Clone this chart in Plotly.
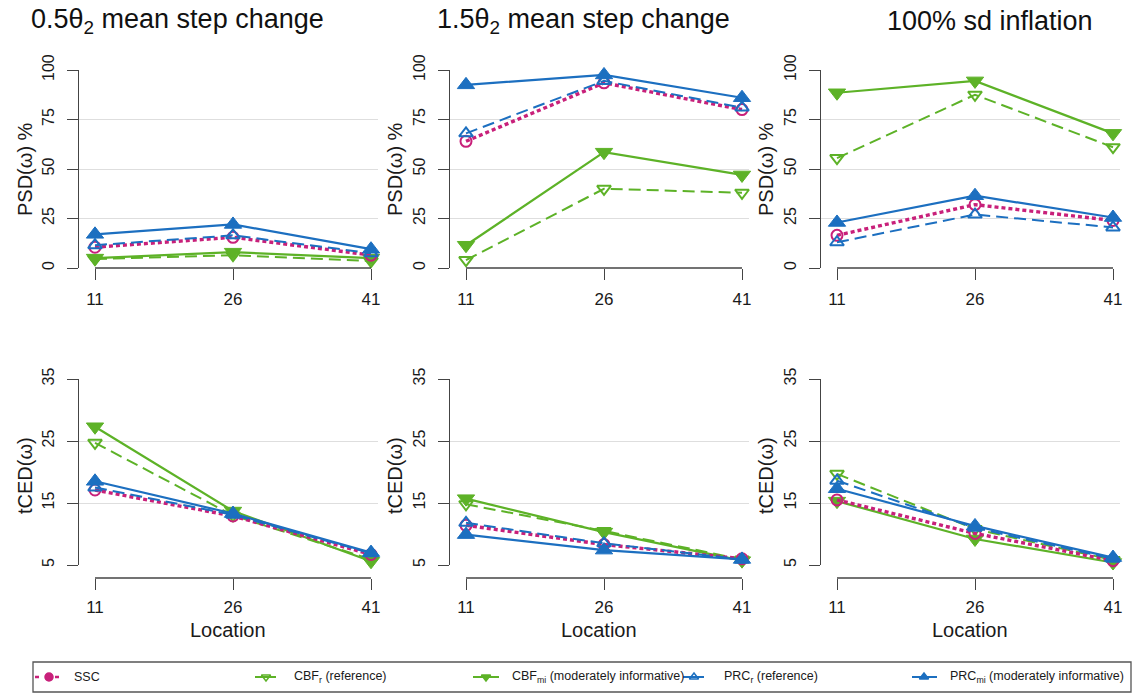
import plotly.graph_objects as go

# ---------------- data ----------------
locations = [11, 26, 41]
scenario_titles = ["0.5θ<sub>2</sub> mean step change", "1.5θ<sub>2</sub> mean step change", "100% sd inflation"]
series_names = ["CBFr", "CBFmi", "SSC", "PRCr", "PRCmi"]

# PSD(ω) % : one list per scenario [0.5θ2, 1.5θ2, sd inflation]
psd_ssc = [[10.5, 15.5, 6.5], [64, 93.5, 80], [16.5, 32, 24]]
psd_cbf_r = [[4.5, 6.5, 3.5], [4, 40, 38], [55.5, 87.5, 61]]
psd_cbf_mi = [[5, 8, 5], [11.5, 58.5, 47], [88.5, 94.5, 68]]
psd_prc_r = [[11.5, 16.5, 7.5], [68, 94.5, 81], [13, 27, 20.5]]
psd_prc_mi = [[17, 22, 9.5], [92.5, 97.5, 86], [23, 36.5, 25.5]]

# tCED(ω)
tced_ssc = [[17.1, 12.9, 6.7], [11.4, 8.3, 6.0], [15.5, 10.1, 5.7]]
tced_cbf_r = [[24.7, 13.0, 5.9], [14.8, 10.5, 5.9], [19.7, 10.8, 5.8]]
tced_cbf_mi = [[27.3, 13.7, 5.6], [15.7, 10.3, 5.7], [15.3, 9.2, 5.4]]
tced_prc_r = [[17.5, 13.1, 6.9], [11.8, 8.5, 5.9], [18.6, 11.0, 6.0]]
tced_prc_mi = [[18.5, 13.3, 7.0], [9.9, 7.4, 5.9], [17.3, 11.3, 6.2]]

psd_ticks = [0, 25, 50, 75, 100]
tced_ticks = [5, 15, 25, 35]

legend_labels = {
    "SSC": "SSC",
    "CBFr": "CBF<sub>r</sub> (reference)",
    "CBFmi": "CBF<sub>mi</sub> (moderately informative)",
    "PRCr": "PRC<sub>r</sub> (reference)",
    "PRCmi": "PRC<sub>mi</sub> (moderately informative)",
}

# ---------------- styles / layout ----------------
W, H = 1134, 694
FONT = "Liberation Sans, Arial, sans-serif"
MAG = "#C8207A"
GRN = "#5DB227"
BLU = "#1C6FC0"
AX = "#444444"

styles = {
    "SSC":   dict(color=MAG, dash="4px,3px", width=3.4, symbol="circle-open", size=11),
    "CBFr":  dict(color=GRN, dash="12px,6px", width=2.0, symbol="triangle-down-open", size=12),
    "CBFmi": dict(color=GRN, dash="solid", width=2.2, symbol="triangle-down", size=15),
    "PRCr":  dict(color=BLU, dash="12px,6px", width=2.0, symbol="triangle-up-open", size=12),
    "PRCmi": dict(color=BLU, dash="solid", width=2.2, symbol="triangle-up", size=15),
}
psd_data = {"SSC": psd_ssc, "CBFr": psd_cbf_r, "CBFmi": psd_cbf_mi, "PRCr": psd_prc_r, "PRCmi": psd_prc_mi}
tced_data = {"SSC": tced_ssc, "CBFr": tced_cbf_r, "CBFmi": tced_cbf_mi, "PRCr": tced_prc_r, "PRCmi": tced_prc_mi}

lefts = [79, 450, 821]
plot_w = 299
x_first_px = 16
px_per_unit = 9.2
top_px = (70, 268)
bot_px = (379, 565)
bot_axis_px = 578
title_cx = [177, 583, 990]
ytitle_cx = [25, 395, 766]


def xdom(l, r):
    return [l / W, r / W]


def ydom(top, bottom):
    return [1 - bottom / H, 1 - top / H]


fig = go.Figure()
layout = dict(
    width=W, height=H, autosize=False, margin=dict(l=0, r=0, t=0, b=0, pad=0, autoexpand=False),
    paper_bgcolor="white", plot_bgcolor="white", showlegend=False,
    font=dict(family=FONT, color="#1a1a1a"),
)
annotations = []
shapes = []

xr = [locations[0] - x_first_px / px_per_unit,
      locations[0] + (plot_w - x_first_px) / px_per_unit]

for col in range(3):
    for row in range(2):
        k = row * 3 + col + 1
        sfx = "" if k == 1 else str(k)
        data = psd_data if row == 0 else tced_data
        for name in series_names:
            st = styles[name]
            open_sym = st["symbol"].endswith("open")
            fig.add_trace(go.Scatter(
                x=locations, y=data[name][col], mode="lines+markers",
                xaxis="x" + sfx, yaxis="y" + sfx, cliponaxis=False,
                line=dict(color=st["color"], width=st["width"], dash=st["dash"]),
                marker=dict(symbol=st["symbol"], size=st["size"], color=st["color"],
                            line=dict(color=st["color"], width=2 if open_sym else 1)),
                name=name,
            ))
        xd = xdom(lefts[col], lefts[col] + plot_w)
        if row == 0:
            yd = ydom(*top_px)
            xa = dict(anchor="y" + sfx, ticklabelstandoff=5)
            ya_range = [0, 100]
            ticks_y = psd_ticks
            axis_y_paper = yd[0]
        else:
            yd = ydom(*bot_px)
            axis_y_paper = 1 - bot_axis_px / H
            xa = dict(anchor="free", position=axis_y_paper, ticklabelstandoff=3)
            ya_range = [5, 35]
            ticks_y = tced_ticks
        xa.update(domain=xd, range=xr, tickvals=locations, ticktext=[str(v) for v in locations],
                  ticks="outside", ticklen=11, tickwidth=1.3, tickcolor=AX, automargin=False,
                  showline=False, showgrid=False, zeroline=False,
                  tickfont=dict(size=17, family=FONT, color="#1a1a1a"))
        ya = dict(domain=yd, range=ya_range, anchor="x" + sfx, tickvals=ticks_y,
                  ticks="outside", ticklen=11, tickwidth=1.3, tickcolor=AX, automargin=False,
                  showline=True, linecolor=AX, linewidth=1.3,
                  showgrid=True, gridcolor="#DEDEDE", gridwidth=1, zeroline=False,
                  tickangle=-90, tickfont=dict(size=16, family=FONT, color="#1a1a1a"),
                  ticklabelstandoff=6)
        layout["xaxis" + sfx] = xa
        layout["yaxis" + sfx] = ya
        # detached x-axis line from first to last location
        shapes.append(dict(type="line", xref="x" + sfx, yref="paper",
                           x0=locations[0], x1=locations[-1], y0=axis_y_paper, y1=axis_y_paper,
                           line=dict(color=AX, width=1.3)))
        # y axis title
        ytxt = "PSD(ω) %" if row == 0 else "tCED(ω)"
        ycen = (top_px[0] + top_px[1]) / 2 if row == 0 else 476
        annotations.append(dict(text=ytxt, x=ytitle_cx[col] / W, y=1 - ycen / H,
                                xref="paper", yref="paper", showarrow=False, textangle=-90,
                                xanchor="center", yanchor="middle",
                                font=dict(size=20, family=FONT, color="#1a1a1a")))
    # column title
    annotations.append(dict(text=scenario_titles[col], x=title_cx[col] / W, y=1 - 21 / H,
                            xref="paper", yref="paper", showarrow=False,
                            xanchor="center", yanchor="middle",
                            font=dict(size=27, family=FONT, color="#111111")))
    # Location label
    annotations.append(dict(text="Location", x=(lefts[col] + plot_w / 2 - 0.5) / W, y=1 - 630 / H,
                            xref="paper", yref="paper", showarrow=False,
                            xanchor="center", yanchor="middle",
                            font=dict(size=20, family=FONT, color="#1a1a1a")))

# ---------------- manual legend ----------------
legend_order = ["SSC", "CBFr", "CBFmi", "PRCr", "PRCmi"]
key_x = {"SSC": (35, 49, 62), "CBFr": (255, 266, 276), "CBFmi": (473, 486, 499),
         "PRCr": (683, 694, 704), "PRCmi": (912, 924, 937)}
text_x = {"SSC": 72, "CBFr": 292, "CBFmi": 510, "PRCr": 722, "PRCmi": 948}
leg_sym = {"SSC": "circle", "CBFr": "triangle-down-open", "CBFmi": "triangle-down",
           "PRCr": "triangle-up-open", "PRCmi": "triangle-up"}
for name in legend_order:
    st = styles[name]
    x0, xm, x1 = key_x[name]
    fig.add_trace(go.Scatter(x=[x0, x1], y=[0.5, 0.5], mode="lines", xaxis="x7", yaxis="y7",
                             line=dict(color=st["color"], width=2 if name != "SSC" else 2.6,
                                       dash="solid" if name != "SSC" else "4px,6px"),
                             cliponaxis=False, hoverinfo="skip"))
    fig.add_trace(go.Scatter(x=[xm], y=[0.5], mode="markers", xaxis="x7", yaxis="y7",
                             marker=dict(symbol=leg_sym[name], size=8,
                                         color=st["color"],
                                         line=dict(color=st["color"], width=1.5)),
                             cliponaxis=False, hoverinfo="skip"))
    annotations.append(dict(text=legend_labels[name], x=text_x[name], y=0.5, xref="x7", yref="y7",
                            showarrow=False, xanchor="left", yanchor="middle",
                            font=dict(size=12.5, family=FONT, color="#1a1a1a")))

layout["xaxis7"] = dict(domain=[0, 1], range=[0, W], visible=False, fixedrange=True, automargin=False)
layout["yaxis7"] = dict(domain=ydom(662, 692), range=[0, 1], visible=False, anchor="x7",
                        fixedrange=True, automargin=False)
shapes.append(dict(type="rect", xref="paper", yref="paper", x0=33 / W, x1=1131 / W,
                   y0=1 - 692 / H, y1=1 - 662 / H, line=dict(color="#555555", width=1.3),
                   fillcolor="rgba(0,0,0,0)"))

layout["annotations"] = annotations
layout["shapes"] = shapes
fig.update_layout(**layout)
fig.write_html("out.html")
